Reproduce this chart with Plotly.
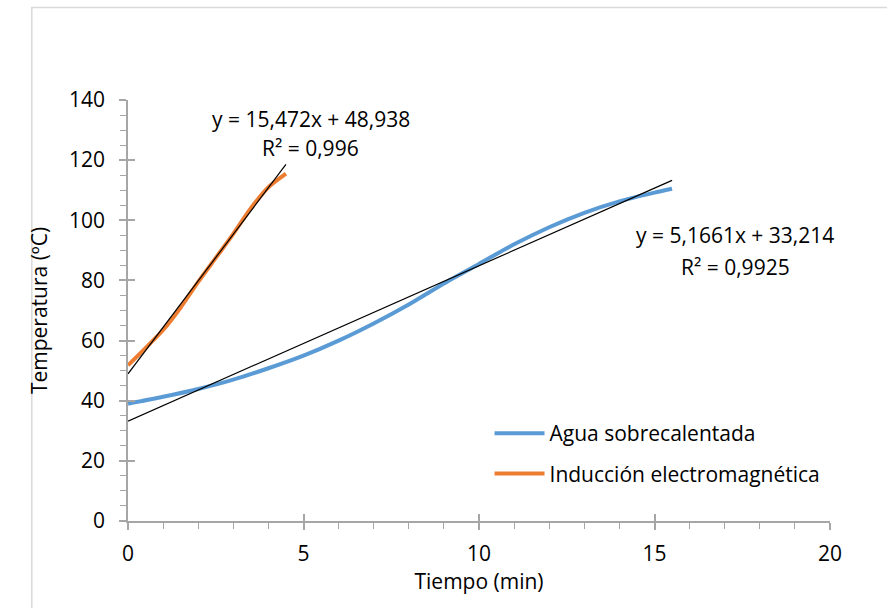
import plotly.graph_objects as go

# Heating curves: time (min) vs temperature (ºC)
tiempo_agua = [0, 1, 2, 3, 4, 5, 6, 7, 8, 9, 10, 11, 12, 13, 14, 15, 15.5]
temp_agua = [39.0, 41.3, 43.9, 47.0, 50.8, 55.0, 60.0, 65.7, 72.0, 79.0,
             85.5, 92.0, 97.7, 102.5, 106.3, 109.2, 110.5]

tiempo_induccion = [0, 0.5, 1, 1.5, 2, 2.5, 3, 3.5, 4, 4.5]
temp_induccion = [51.8, 57.5, 63.5, 71.0, 79.5, 87.5, 95.5, 104.0, 111.0, 115.5]

# Linear trend lines (slope, intercept, R²)
trend_agua = (5.1661, 33.214, 0.9925)
trend_induccion = (15.472, 48.938, 0.996)

x_ticks = [0, 5, 10, 15, 20]
y_ticks = [0, 20, 40, 60, 80, 100, 120, 140]

BLUE = "#5B9BD5"
ORANGE = "#ED7D31"
AXIS = "#A6A6A6"
FONT = "Open Sans"
FS = 21

fig = go.Figure()

fig.add_trace(go.Scatter(
    x=tiempo_agua, y=temp_agua, mode="lines", name="Agua sobrecalentada",
    line=dict(color=BLUE, width=4, shape="spline", smoothing=0.6),
    legendgroup="a"))
fig.add_trace(go.Scatter(
    x=tiempo_induccion, y=temp_induccion, mode="lines", name="Inducción electromagnética",
    line=dict(color=ORANGE, width=4, shape="spline", smoothing=0.6),
    legendgroup="b"))


def trend_trace(xs, coef):
    m, b, _ = coef
    x0, x1 = xs[0], xs[-1]
    return go.Scatter(x=[x0, x1], y=[m * x0 + b, m * x1 + b], mode="lines",
                      line=dict(color="black", width=1.2), showlegend=False,
                      hoverinfo="skip")


fig.add_trace(trend_trace(tiempo_agua, trend_agua))
fig.add_trace(trend_trace(tiempo_induccion, trend_induccion))

# invisible trace on overlay axes that carry the inner half of the major ticks
fig.add_trace(go.Scatter(x=[0], y=[0], xaxis="x2", yaxis="y2", mode="markers",
                         marker=dict(opacity=0), showlegend=False, hoverinfo="skip"))


def fmt(v):
    return f"{v}".replace(".", ",")


def add_eq(coef, cx, cy_eq, cy_r2):
    m, b, r2 = coef
    fig.add_annotation(x=cx, y=cy_eq, xref="x", yref="y", showarrow=False,
                       text=f"y = {fmt(m)}x + {fmt(b)}", xanchor="center",
                       font=dict(size=FS, color="black", family=FONT))
    fig.add_annotation(x=cx, y=cy_r2, xref="x", yref="y", showarrow=False,
                       text=f"R² = {fmt(r2)}", xanchor="center",
                       font=dict(size=FS, color="black", family=FONT))


add_eq(trend_induccion, 5.2, 133.7, 124.2)
add_eq(trend_agua, 17.3, 95.0, 84.4)

axis_common = dict(showgrid=False, zeroline=False, showline=True, linecolor=AXIS,
                   linewidth=1.5, ticks="outside", tickcolor=AXIS, tickwidth=1.5,
                   ticklen=7, tickfont=dict(size=FS, color="black", family=FONT))

fig.update_layout(
    width=887, height=608,
    margin=dict(l=128, r=57, t=100, b=87),
    paper_bgcolor="white", plot_bgcolor="white",
    font=dict(family=FONT, color="black"),
    xaxis=dict(range=[0, 20], tickvals=x_ticks, ticklabelstandoff=6,
               title=dict(text="Tiempo (min)", font=dict(size=FS, family=FONT), standoff=8),
               minor=dict(dtick=1, ticks="outside", ticklen=6, tickcolor=AXIS, tickwidth=1.2),
               **axis_common),
    yaxis=dict(range=[0, 140], tickvals=y_ticks, ticklabelstandoff=10,
               title=dict(text="Temperatura (ºC)", font=dict(size=FS, family=FONT), standoff=16),
               minor=dict(dtick=5, ticks="outside", ticklen=6, tickcolor=AXIS, tickwidth=1.2),
               **axis_common),
    xaxis2=dict(range=[0, 20], overlaying="x", tickvals=x_ticks, ticks="inside",
                ticklen=7, tickcolor=AXIS, tickwidth=1.5, showticklabels=False,
                showgrid=False, zeroline=False, showline=False),
    yaxis2=dict(range=[0, 140], overlaying="y", tickvals=y_ticks, ticks="inside",
                ticklen=7, tickcolor=AXIS, tickwidth=1.5, showticklabels=False,
                showgrid=False, zeroline=False, showline=False),
    legend=dict(x=0.515, y=0.16, xanchor="left", yanchor="middle",
                font=dict(size=FS, color="black", family=FONT),
                bgcolor="rgba(0,0,0,0)", tracegroupgap=10, itemwidth=50),
    showlegend=True,
)

# outer chart frame
fig.add_shape(type="rect", xref="paper", yref="paper",
              x0=-0.137, x1=1.2, y0=-0.3, y1=1.22,
              line=dict(color="#D9D9D9", width=1.5), layer="below")

fig.write_html("out.html")
